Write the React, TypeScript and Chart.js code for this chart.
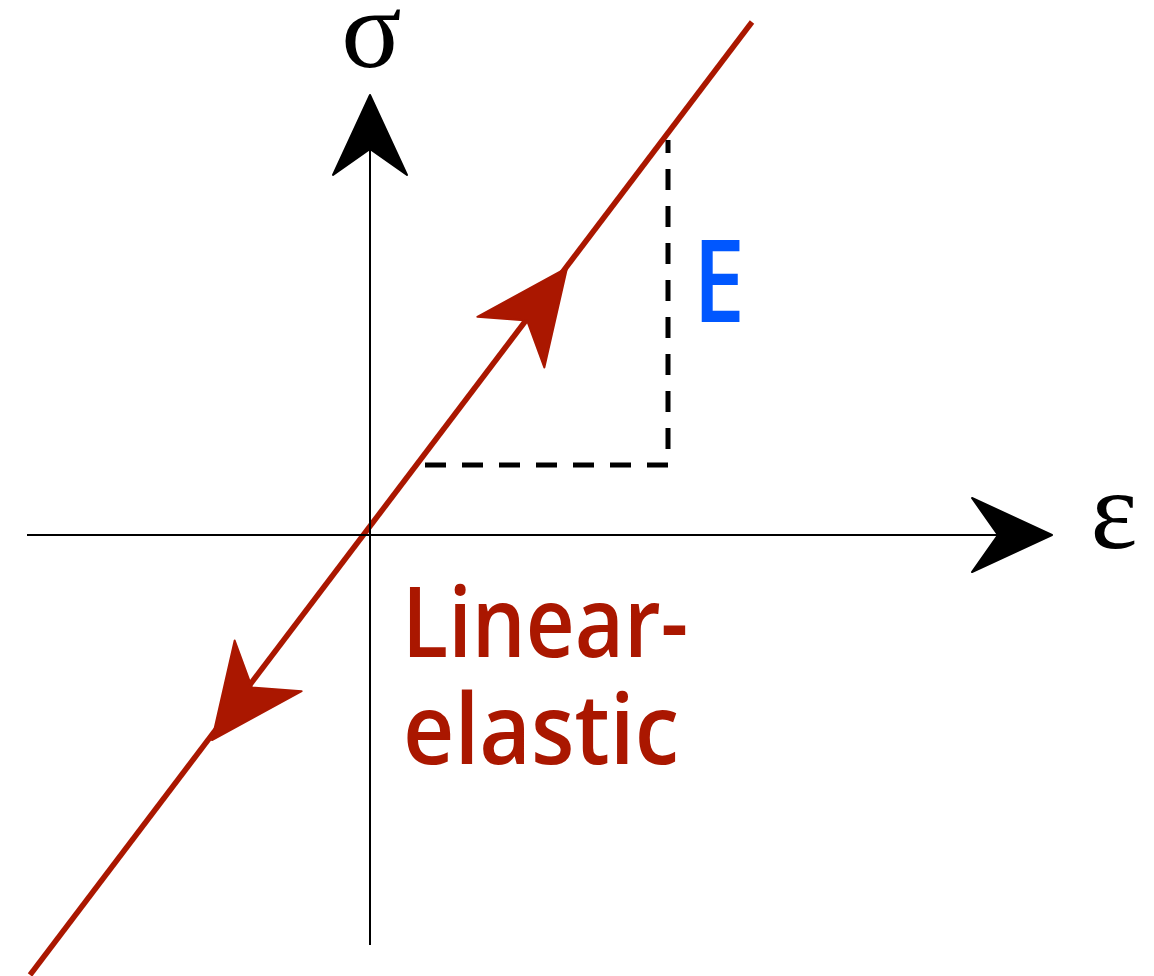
import React, { useEffect, useRef } from "react";
import { Chart, registerables } from "chart.js";

Chart.register(...registerables);

const W = 1154;
const H = 976;

// Data space: strain ε (x) and stress σ (y), origin at axes crossing
const strainRange = [-3.7, 7.84];
const stressRange = [-4.41, 5.35];

const sigmaAxisStrain = [0, 0];
const sigmaAxisStress = [-4.1, 4.3];
const epsAxisStrain = [-3.43, 6.7];
const epsAxisStress = [0, 0];

const loadingStrain = [-3.4, 3.82];
const loadingStress = [-4.4, 5.13];

const slopeStrain = [0.55, 2.98, 2.98];
const slopeStress = [0.7, 0.7, 3.95];

// arrowheads: tip position and direction (data units)
const arrowTipStrain = [0, 6.82, 1.97, -1.58];
const arrowTipStress = [4.4, 0, 2.67, -2.05];
const arrowDirStrain = [0, 1, 1, -1];
const arrowDirStress = [1, 0, 1.32, -1.32];
const arrowKind = ["axis", "axis", "path", "path"];

// labels
const labelTexts = ["σ", "ε", "E", "Linear-", "elastic"];
const labelStrain = [0.015, 7.44, 3.23, 0.32, 0.33];
const labelStress = [4.68, -0.13, 2.13, -1.22, -2.29];
const labelKind = ["sym", "sym", "modulus", "desc", "desc"];

const RED = "#aa1700";
const BLUE = "#0057ff";
const BLACK = "#000000";

const pts = (xs: number[], ys: number[]) => xs.map((x, i) => ({ x, y: ys[i] }));

const overlayPlugin = {
  id: "overlay",
  afterDatasetsDraw(chart: any) {
    const { ctx, scales } = chart;
    const xs = scales.x;
    const ys = scales.y;
    ctx.save();
    // arrowheads
    for (let i = 0; i < arrowTipStrain.length; i++) {
      const tx = xs.getPixelForValue(arrowTipStrain[i]);
      const ty = ys.getPixelForValue(arrowTipStress[i]);
      const ax = xs.getPixelForValue(arrowTipStrain[i] + arrowDirStrain[i]) - tx;
      const ay = ys.getPixelForValue(arrowTipStress[i] + arrowDirStress[i]) - ty;
      const len = Math.hypot(ax, ay);
      const ux = ax / len;
      const uy = ay / len;
      const nx = -uy;
      const ny = ux;
      const isAxis = arrowKind[i] === "axis";
      const L = isAxis ? 80 : 93;
      const hw = isAxis ? 37 : 42;
      const N = isAxis ? 54 : 66;
      ctx.beginPath();
      ctx.moveTo(tx, ty);
      ctx.lineTo(tx - ux * L + nx * hw, ty - uy * L + ny * hw);
      ctx.lineTo(tx - ux * N, ty - uy * N);
      ctx.lineTo(tx - ux * L - nx * hw, ty - uy * L - ny * hw);
      ctx.closePath();
      ctx.fillStyle = isAxis ? BLACK : RED;
      ctx.strokeStyle = isAxis ? BLACK : RED;
      ctx.lineWidth = 2;
      ctx.lineJoin = "round";
      ctx.fill();
      ctx.stroke();
    }
    // labels
    for (let i = 0; i < labelTexts.length; i++) {
      const px = xs.getPixelForValue(labelStrain[i]);
      const py = ys.getPixelForValue(labelStress[i]);
      const k = labelKind[i];
      ctx.textBaseline = "alphabetic";
      if (k === "sym") {
        ctx.font = "112px 'Liberation Serif', serif";
        ctx.fillStyle = BLACK;
        ctx.textAlign = "center";
        ctx.fillText(labelTexts[i], px, py);
      } else if (k === "modulus") {
        ctx.font = "600 115px 'Open Sans', sans-serif";
        ctx.fillStyle = BLUE;
        ctx.textAlign = "left";
        ctx.fillText(labelTexts[i], px, py, 52);
      } else {
        ctx.font = "600 98px 'Open Sans', sans-serif";
        ctx.fillStyle = RED;
        ctx.textAlign = "left";
        ctx.fillText(labelTexts[i], px, py, i === 3 ? 286 : 276);
      }
    }
    ctx.restore();
  },
};

export default function App() {
  const ref = useRef<HTMLCanvasElement | null>(null);
  useEffect(() => {
    document.body.style.margin = "0";
    const canvas = ref.current;
    if (!canvas) return;
    const chart = new Chart(canvas, {
      type: "scatter",
      data: {
        datasets: [
          {
            data: pts(sigmaAxisStrain, sigmaAxisStress),
            showLine: true,
            borderColor: BLACK,
            borderWidth: 2,
            pointRadius: 0,
          },
          {
            data: pts(epsAxisStrain, epsAxisStress),
            showLine: true,
            borderColor: BLACK,
            borderWidth: 2,
            pointRadius: 0,
          },
          {
            data: pts(slopeStrain, slopeStress),
            showLine: true,
            borderColor: BLACK,
            borderWidth: 5,
            borderDash: [21, 16],
            borderCapStyle: "butt",
            borderJoinStyle: "miter",
            pointRadius: 0,
          },
          {
            data: pts(loadingStrain, loadingStress),
            showLine: true,
            borderColor: RED,
            borderWidth: 5.5,
            pointRadius: 0,
          },
        ],
      },
      options: {
        responsive: false,
        animation: false,
        devicePixelRatio: 1,
        layout: { padding: 0 },
        plugins: {
          legend: { display: false },
          tooltip: { enabled: false },
          title: { display: false },
        },
        scales: {
          x: { type: "linear", min: strainRange[0], max: strainRange[1], display: false },
          y: { type: "linear", min: stressRange[0], max: stressRange[1], display: false },
        },
      },
      plugins: [overlayPlugin],
    });
    return () => chart.destroy();
  }, []);
  return (
    <div style={{ width: W, height: H, background: "#ffffff" }}>
      <canvas ref={ref} width={W} height={H} style={{ display: "block" }} />
    </div>
  );
}
